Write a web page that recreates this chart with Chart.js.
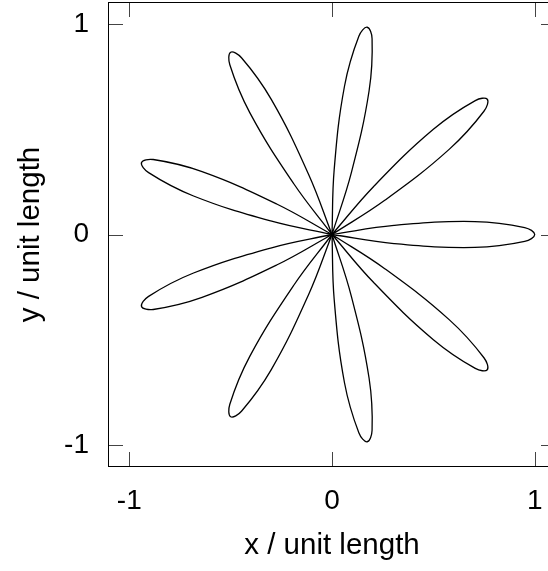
<!DOCTYPE html>
<html>
<head>
<meta charset="utf-8">
<script src="https://cdn.jsdelivr.net/npm/chart.js@4/dist/chart.umd.min.js"></script>
<style>
  html, body { margin: 0; padding: 0; background: #fff; overflow: hidden; }
</style>
</head>
<body>
<canvas id="rose" width="560" height="571"></canvas>
<script>
// petals of the rose as [x, y] points, each starting and ending at the origin
var petalR = [[0, 0], [0.3060, -0.0430], [0.7044, -0.0616], [0.9505, -0.0332], [1, 0], [0.9505, 0.0332], [0.7044, 0.0616], [0.3060, 0.0430], [0, 0]]
var petalUR = [[0, 0], [0.2620, 0.1637], [0.5792, 0.4056], [0.7495, 0.5856], [0.7660, 0.6428], [0.7068, 0.6364], [0.5000, 0.5000], [0.2068, 0.2296], [0, 0]]
var petalT = [[0, 0], [0.0955, 0.2939], [0.1830, 0.6830], [0.1977, 0.9303], [0.1736, 0.9848], [0.1324, 0.9418], [0.0616, 0.7044], [0.0108, 0.3088], [0, 0]]
var petalUL = [[0, 0], [-0.1158, 0.2865], [-0.2988, 0.6409], [-0.4465, 0.8398], [-0.5000, 0.8660], [-0.5040, 0.8066], [-0.4056, 0.5792], [-0.1902, 0.2435], [0, 0]]
var petalL = [[0, 0], [-0.2728, 0.1451], [-0.6409, 0.2988], [-0.8818, 0.3563], [-0.9397, 0.3420], [-0.9046, 0.2939], [-0.6830, 0.1830], [-0.3023, 0.0642], [0, 0]]
var petalLL = [[0, 0], [-0.3023, -0.0642], [-0.6830, -0.1830], [-0.9046, -0.2939], [-0.9397, -0.3420], [-0.8818, -0.3563], [-0.6409, -0.2988], [-0.2728, -0.1451], [0, 0]]
var petalBL = [[0, 0], [-0.1902, -0.2435], [-0.4056, -0.5792], [-0.5040, -0.8066], [-0.5000, -0.8660], [-0.4465, -0.8398], [-0.2988, -0.6409], [-0.1158, -0.2865], [0, 0]]
var petalB = [[0, 0], [0.0108, -0.3088], [0.0616, -0.7044], [0.1324, -0.9418], [0.1736, -0.9848], [0.1977, -0.9303], [0.1830, -0.6830], [0.0955, -0.2939], [0, 0]]
var petalLR = [[0, 0], [0.2068, -0.2296], [0.5000, -0.5000], [0.7068, -0.6364], [0.7660, -0.6428], [0.7495, -0.5856], [0.5792, -0.4056], [0.2620, -0.1637], [0, 0]]

var tickValues = [-1, 0, 1]
var xTitle = "x / unit length"
var yTitle = "y / unit length"

var petals = [petalR, petalUR, petalT, petalUL, petalL, petalLL, petalBL, petalB, petalLR]
var FONT = "Liberation Sans, Arial, sans-serif"

// frame, inward ticks on all four sides and the axis titles
var framePlugin = {
	id: 'frame',
	afterDraw: function (chart) {
		var ctx = chart.ctx
		var a = chart.chartArea
		var xs = chart.scales.x
		var ys = chart.scales.y
		ctx.save()
		ctx.strokeStyle = '#000'
		ctx.lineWidth = 1
		ctx.strokeRect(a.left - 0.5, a.top - 0.5, a.right - a.left + 1, a.bottom - a.top + 1)

		ctx.strokeStyle = '#444'
		ctx.beginPath()
		for (var v of tickValues) {
			var px = Math.round(xs.getPixelForValue(v)) + 0.5
			ctx.moveTo(px, a.bottom); ctx.lineTo(px, a.bottom - 14)
			ctx.moveTo(px, a.top); ctx.lineTo(px, a.top + 14)
			var py = Math.round(ys.getPixelForValue(v)) + 0.5
			ctx.moveTo(a.left, py); ctx.lineTo(a.left + 14, py)
			ctx.moveTo(a.right, py); ctx.lineTo(a.right - 14, py)
		}
		ctx.stroke()

		ctx.fillStyle = '#000'
		ctx.font = '29.5px ' + FONT
		ctx.textAlign = 'center'
		ctx.textBaseline = 'middle'
		ctx.fillText(xTitle, (a.left + a.right) / 2, 546)
		ctx.translate(31, (a.top + a.bottom) / 2)
		ctx.rotate(-Math.PI / 2)
		ctx.fillText(yTitle, 0, 0)
		ctx.restore()
	}
}

var datasets = []
for (var p of petals) {
	datasets.push({
		data: p.map(function (q) { return { x: q[0], y: q[1] } }),
		showLine: true,
		pointRadius: 0,
		borderColor: '#000',
		borderWidth: 1.3,
		tension: 0.4,
		fill: false
	})
}

function setTicks(scale) {
	scale.ticks = tickValues.map(function (v) { return { value: v } })
}

var chart = new Chart(document.getElementById('rose').getContext('2d'), {
	type: 'scatter',
	data: { datasets: datasets },
	options: {
		responsive: false,
		devicePixelRatio: 1,
		animation: false,
		layout: { autoPadding: false, padding: { top: 3, right: 5, left: 0, bottom: 0 } },
		plugins: { legend: { display: false }, title: { display: false }, tooltip: { enabled: false } },
		scales: {
			x: {
				type: 'linear', min: -1.1, max: 1.1,
				afterBuildTicks: setTicks,
				afterFit: function (s) {
					s.height = 105
					s.paddingLeft = 0; s.paddingRight = 0
				},
				grid: { display: false, drawTicks: false },
				border: { display: false },
				ticks: { color: '#000', padding: 18, font: { family: FONT, size: 28 }, maxRotation: 0 }
			},
			y: {
				type: 'linear', min: -1.1, max: 1.1,
				afterBuildTicks: setTicks,
				afterFit: function (s) {
					s.width = 109
					s.paddingTop = 0; s.paddingBottom = 0
				},
				grid: { display: false, drawTicks: false },
				border: { display: false },
				ticks: { color: '#000', padding: 20, font: { family: FONT, size: 28 } }
			}
		}
	},
	plugins: [framePlugin]
})
</script>
</body>
</html>
